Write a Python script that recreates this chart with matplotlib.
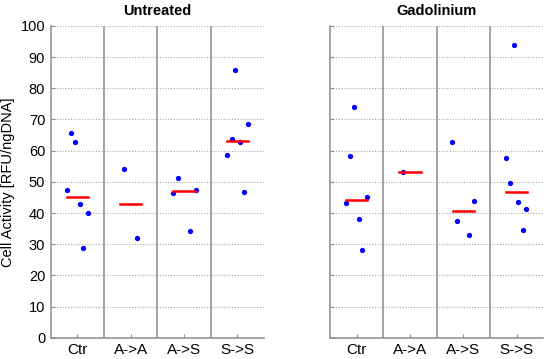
import numpy as np
import matplotlib.pyplot as plt

plt.rcParams['font.family'] = ['Liberation Sans', 'DejaVu Sans']

# data
groups = ['Ctr', 'A->A', 'A->S', 'S->S']
titles = ['Untreated', 'Gadolinium']

untreated = [
    [65.7, 62.9, 47.4, 42.9, 39.9, 28.8],
    [54.0, 31.9],
    [51.2, 46.5, 47.5, 34.3],
    [85.9, 68.4, 63.6, 62.7, 58.5, 46.7],
]
untreated_jit = [
    [-0.125, -0.045, -0.2, 0.043, 0.2, 0.11],
    [-0.12, 0.12],
    [-0.11, -0.2, 0.22, 0.12],
    [-0.04, 0.19, -0.11, 0.04, -0.2, 0.12],
]
gadolinium = [
    [74.0, 58.4, 45.1, 43.3, 38.1, 28.2],
    [53.0],
    [62.9, 43.9, 37.4, 33.0],
    [93.8, 57.5, 49.7, 43.6, 41.4, 34.6],
]
gadolinium_jit = [
    [-0.045, -0.13, 0.19, -0.195, 0.04, 0.105],
    [-0.125],
    [-0.21, 0.195, -0.125, 0.11],
    [-0.05, -0.2, -0.125, 0.03, 0.18, 0.11],
]

fig = plt.figure(figsize=(5.5, 3.59), dpi=100)
ax1 = fig.add_axes([0.0922, 0.059, 0.388, 0.869])
ax2 = fig.add_axes([0.6, 0.059, 0.388, 0.869])

gray = '#8c8c8c'

def draw(ax, vals, jit, title, ylab):
    for i, (v, j) in enumerate(zip(vals, jit)):
        pos = i + 1
        ax.plot(pos + np.array(j), v, 'o', color='#0000ff', ms=3.8, mec='none', zorder=3)
        # red bar = median of the group
        ax.plot([pos - 0.2, pos + 0.2], [np.median(v)] * 2, color='#ff0000', lw=1.8, zorder=4)
    for s in [1.5, 2.5, 3.5]:
        ax.axvline(s, color=gray, lw=1.1, zorder=2)
    ax.set_xlim(0.5, 4.5)
    ax.set_ylim(0, 100)
    ax.set_yticks(range(0, 101, 10))
    ax.set_xticks(range(1, 5))
    ax.set_xticklabels(groups, fontsize=11)
    ax.yaxis.grid(True, linestyle=(0, (1, 1.5)), color='#a8a8a8', lw=0.8)
    ax.set_axisbelow(True)
    for sp in ['top', 'right']:
        ax.spines[sp].set_visible(False)
    for sp in ['left', 'bottom']:
        ax.spines[sp].set_color(gray)
        ax.spines[sp].set_linewidth(1.1)
    ax.tick_params(direction='in', length=3, color=gray, pad=4)
    ax.tick_params(axis='y', labelsize=10.5)
    ax.tick_params(axis='x', labelsize=11)
    ax.set_title(title, fontsize=10.5, fontweight='bold', pad=8)
    if ylab:
        ax.set_ylabel('Cell Activity [RFU/ngDNA]', fontsize=10.5, labelpad=4)
    else:
        ax.set_yticklabels([])

draw(ax1, untreated, untreated_jit, titles[0], True)
draw(ax2, gadolinium, gadolinium_jit, titles[1], False)

fig.savefig('out.png', dpi=100)
